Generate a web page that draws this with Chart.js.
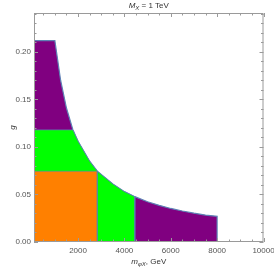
<!DOCTYPE html>
<html>
<head>
<meta charset="utf-8">
<script src="https://cdn.jsdelivr.net/npm/chart.js@4/dist/chart.umd.min.js"></script>
<style>
  html, body { margin: 0; padding: 0; background: #fff; }
  #wrap { width: 274px; height: 278px; }
</style>
</head>
<body>
<div id="wrap"><canvas id="chart"></canvas></div>
<script>
// upper boundary of the allowed region (m in GeV, g)
const curveMass = [1000, 1250, 1500, 1780, 2000, 2500, 2830, 3000, 3500, 4000, 4450, 5000, 5500, 6000, 6500, 7000, 7500, 8000];
const curveG    = [0.212, 0.170, 0.141, 0.118, 0.106, 0.085, 0.0745, 0.071, 0.061, 0.053, 0.0477, 0.0424, 0.0386, 0.0353, 0.0326, 0.0303, 0.0283, 0.027];

// region edges
const massStart = 100;
const flatTopG = 0.212;
const greenTopG = 0.118;
const orangeTopG = 0.0745;
const orangeEnd = 2830;
const greenEnd = 4450;
const purpleEnd = 8000;

// axes
const xRange = [100, 10000];
const yRange = [0, 0.241];
const xTickLabels = [2000, 4000, 6000, 8000, 10000];
const xMinorTicks = [500, 1000, 1500, 2500, 3000, 3500, 4500, 5000, 5500, 6500, 7000, 7500, 8500, 9000, 9500];
const yTickLabels = [0, 0.05, 0.10, 0.15, 0.20];
const yMinorTicks = [0.01, 0.02, 0.03, 0.04, 0.06, 0.07, 0.08, 0.09, 0.11, 0.12, 0.13, 0.14, 0.16, 0.17, 0.18, 0.19, 0.21, 0.22, 0.23, 0.24];

const curvePts = curveMass.map((m, i) => ({ x: m, y: curveG[i] }));

const purpleData = [{ x: massStart, y: 0 }, { x: massStart, y: flatTopG }]
  .concat(curvePts.filter(p => p.x <= purpleEnd))
  .concat([{ x: purpleEnd, y: 0 }]);

const greenData = [{ x: massStart, y: 0 }, { x: massStart, y: greenTopG }]
  .concat(curvePts.filter(p => p.y <= greenTopG && p.x <= greenEnd))
  .concat([{ x: greenEnd, y: 0 }]);

const orangeData = [
  { x: massStart, y: 0 }, { x: massStart, y: orangeTopG },
  { x: orangeEnd, y: orangeTopG }, { x: orangeEnd, y: 0 }
];

const FONT = '"Liberation Sans", Arial, sans-serif';

function drawRich(ctx, parts, cx, cy) {
  let w = 0;
  parts.forEach(p => {
    ctx.font = (p.italic ? 'italic ' : '') + (p.sub ? 6 : 8) + 'px ' + FONT;
    p.w = ctx.measureText(p.t).width;
    w += p.w;
  });
  let x = cx - w / 2;
  parts.forEach(p => {
    ctx.font = (p.italic ? 'italic ' : '') + (p.sub ? 6 : 8) + 'px ' + FONT;
    ctx.fillText(p.t, x, cy + (p.sub ? 2 : 0));
    x += p.w;
  });
}

// frame with inward ticks on all four sides + labels
const framePlugin = {
  id: 'frame',
  afterDraw(chart) {
    const { ctx, chartArea: a, scales: { x, y } } = chart;
    ctx.save();
    ctx.strokeStyle = '#9a9a9a';
    ctx.lineWidth = 1;
    ctx.strokeRect(a.left + 0.5, a.top + 0.5, a.right - a.left - 1, a.bottom - a.top - 1);
    ctx.beginPath();
    const tx = (v, len) => {
      const px = Math.round(x.getPixelForValue(v)) + 0.5;
      ctx.moveTo(px, a.bottom); ctx.lineTo(px, a.bottom - len);
      ctx.moveTo(px, a.top); ctx.lineTo(px, a.top + len);
    };
    const ty = (v, len) => {
      const py = Math.round(y.getPixelForValue(v)) + 0.5;
      ctx.moveTo(a.left, py); ctx.lineTo(a.left + len, py);
      ctx.moveTo(a.right, py); ctx.lineTo(a.right - len, py);
    };
    xTickLabels.forEach(v => tx(v, 4));
    xMinorTicks.forEach(v => tx(v, 2.5));
    yTickLabels.forEach(v => ty(v, 4));
    yMinorTicks.forEach(v => ty(v, 2.5));
    ctx.stroke();

    ctx.fillStyle = '#333';
    ctx.textBaseline = 'middle';
    ctx.textAlign = 'left';
    const cx = (a.left + a.right) / 2;
    drawRich(ctx, [{ t: 'M', italic: true }, { t: 'X', italic: true, sub: true }, { t: ' = 1 TeV' }], cx, 6);
    drawRich(ctx, [{ t: 'm', italic: true }, { t: '\u03C6X', italic: true, sub: true }, { t: ', GeV' }], cx, 262);

    ctx.translate(13, (a.top + a.bottom) / 2);
    ctx.rotate(-Math.PI / 2);
    ctx.textAlign = 'center';
    ctx.font = 'italic 8px ' + FONT;
    ctx.fillText('g', 0, 0);
    ctx.restore();
  }
};

new Chart(document.getElementById('chart'), {
  type: 'line',
  data: {
    datasets: [
      { data: orangeData, backgroundColor: '#FF8000', borderColor: 'rgba(94,129,181,0.6)', borderWidth: 1, fill: 'origin', order: 0 },
      { data: greenData, backgroundColor: '#00FF00', borderColor: 'rgba(94,129,181,0.7)', borderWidth: 1, fill: 'origin', order: 1 },
      { data: purpleData, backgroundColor: '#800080', borderColor: '#5E81B5', borderWidth: 1.2, fill: 'origin', order: 2 }
    ]
  },
  options: {
    responsive: true,
    maintainAspectRatio: false,
    animation: false,
    layout: { padding: { top: 13, right: 10.5, left: 0, bottom: 0 } },
    elements: { point: { radius: 0 }, line: { tension: 0 } },
    plugins: { legend: { display: false }, tooltip: { enabled: false } },
    scales: {
      x: {
        type: 'linear',
        min: xRange[0],
        max: xRange[1],
        grid: { display: false, drawTicks: false },
        border: { display: false },
        afterBuildTicks: s => { s.ticks = xTickLabels.map(v => ({ value: v })); },
        afterFit: s => { s.height = 36; s.paddingLeft = 0; s.paddingRight = 0; },
        ticks: { padding: 4, maxRotation: 0, color: '#555', font: { family: FONT, size: 8 }, callback: v => String(v) }
      },
      y: {
        min: yRange[0],
        max: yRange[1],
        grid: { display: false, drawTicks: false },
        border: { display: false },
        afterBuildTicks: s => { s.ticks = yTickLabels.map(v => ({ value: v })); },
        afterFit: s => { s.width = 34; s.paddingTop = 0; s.paddingBottom = 0; },
        ticks: { padding: 3, color: '#555', font: { family: FONT, size: 8 }, callback: v => v.toFixed(2) }
      }
    }
  },
  plugins: [framePlugin]
});
</script>
</body>
</html>
